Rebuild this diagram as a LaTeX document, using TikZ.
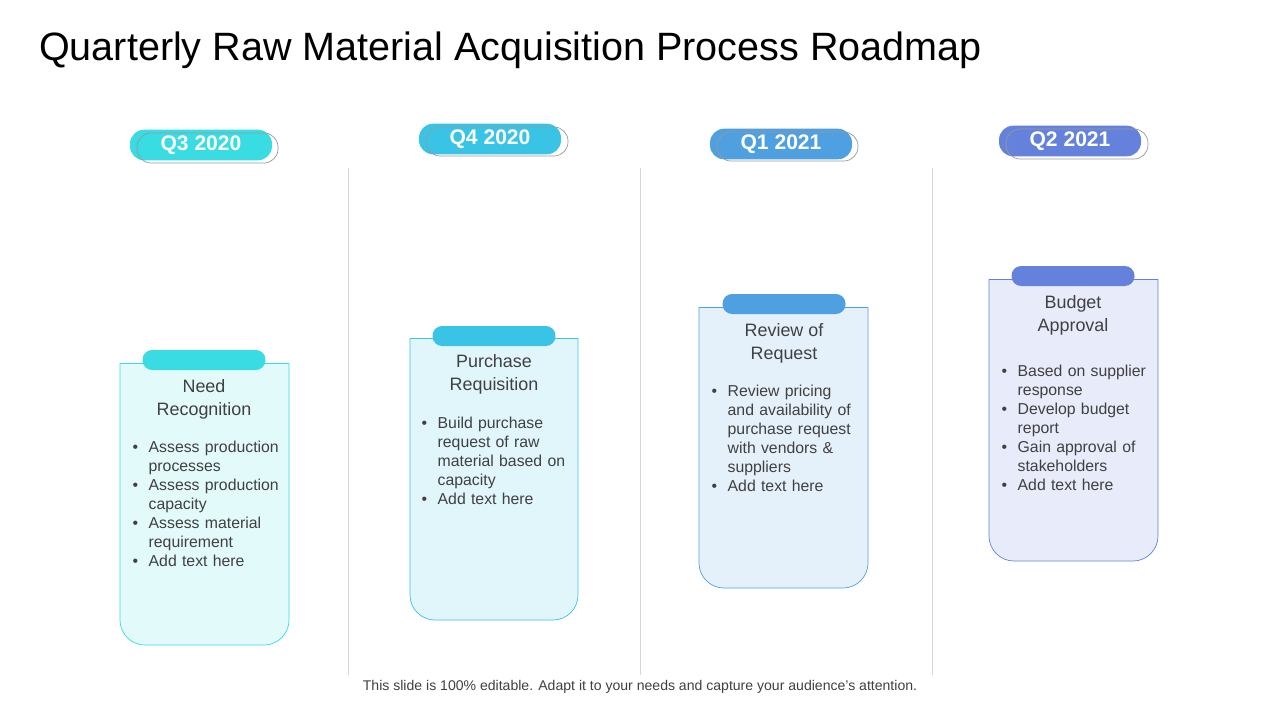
\documentclass[tikz,border=0pt]{standalone}
\usepackage{fontspec}
\setmainfont{Liberation Sans}
\usepackage{enumitem}
\usetikzlibrary{positioning}
\definecolor{qcyan}{RGB}{56,220,226}
\definecolor{qsky}{RGB}{57,196,230}
\definecolor{qblue}{RGB}{79,160,225}
\definecolor{qindigo}{RGB}{100,130,220}
\definecolor{qtext}{RGB}{64,64,64}
\definecolor{qrule}{RGB}{215,215,215}
\newcommand{\cardlist}[1]{\begin{itemize}[leftmargin=11pt,labelsep=6pt,itemsep=0pt,topsep=0pt,parsep=0pt,label=\textbullet]#1\end{itemize}}

\begin{document}
\begin{tikzpicture}[
    x=0.02cm, y=-0.02cm,
    pill/.style={
        rectangle,
        rounded corners=8pt,
        minimum width=2.84cm,
        minimum height=0.6cm,
        text=white,
        font=\bfseries\fontsize{12}{14}\selectfont
    },
    ghost/.style={
        rounded corners=8pt,
        draw=gray!80,
        thin
    },
    tab/.style={
        rectangle,
        rounded corners=5.5pt,
        minimum width=2.46cm,
        minimum height=0.4cm
    },
    card/.style={
        thin,
        rounded corners=0.5cm
    },
    heading/.style={
        text=qtext,
        align=center,
        font=\fontsize{10.2}{13}\selectfont
    },
    bullets/.style={
        text=qtext,
        text width=88pt,
        font=\fontsize{9}{10.8}\selectfont,
        anchor=north west,
        inner sep=0pt
    }
]

% Frame
\useasboundingbox (0,0) rectangle (1280,720);

% Title
\node[anchor=west, font=\fontsize{22.5}{26}\selectfont, text=black] (title) at (33,50) {Quarterly Raw Material Acquisition Process Roadmap};

% Dividers
\foreach \x in {348, 640, 932} {
    \draw[qrule] (\x,168) -- (\x,675);
}

% Quarter pills
\node[pill, fill=qcyan] (q3) at (201,145) {Q3 2020};
\draw[ghost] (137,133) rectangle (278,163);
\node[pill, fill=qsky] (q4) at (490,139) {Q4 2020};
\draw[ghost] (426,127) rectangle (568,156);
\node[pill, fill=qblue] (q1) at (781,144) {Q1 2021};
\draw[ghost] (717,132) rectangle (858,161);
\node[pill, fill=qindigo] (q2) at (1070,141) {Q2 2021};
\draw[ghost] (1006,129) rectangle (1148,159);

% Cards
\draw[card, draw=qcyan, fill=qcyan!14] (120,363) -- (120,645) -- (289,645) -- (289,363);
\draw[qcyan, thin] (120,363) -- (289,363);
\draw[card, draw=qsky, fill=qsky!15] (410,338) -- (410,620) -- (578,620) -- (578,338);
\draw[qsky, thin] (410,338) -- (578,338);
\draw[card, draw=qblue, fill=qblue!15] (699,307) -- (699,588) -- (868,588) -- (868,307);
\draw[qblue, thin] (699,307) -- (868,307);
\draw[card, draw=qindigo, fill=qindigo!15] (989,279) -- (989,561) -- (1158,561) -- (1158,279);
\draw[qindigo, thin] (989,279) -- (1158,279);

% Tabs
\node[tab, fill=qcyan] (tab3) at (204,360) {};
\node[tab, fill=qsky] (tab4) at (494,336) {};
\node[tab, fill=qblue] (tab1) at (784,304) {};
\node[tab, fill=qindigo] (tab2) at (1073,276) {};

% Headings
\node[heading] (need) at (204,399) {Need\\Recognition};
\node[heading] (purchase) at (494,374) {Purchase\\Requisition};
\node[heading] (review) at (784,343) {Review of\\Request};
\node[heading] (budget) at (1073,315) {Budget\\Approval};

% Bullet lists
\node[bullets] (needlist) at (129,433) {\cardlist{
    \item Assess production processes
    \item Assess production capacity
    \item Assess material requirement
    \item Add text here}};
\node[bullets] (purchaselist) at (418,409) {\cardlist{
    \item Build purchase request of raw material based on capacity
    \item Add text here}};
\node[bullets] (reviewlist) at (708,377) {\cardlist{
    \item Review pricing and availability of purchase request with vendors \& suppliers
    \item Add text here}};
\node[bullets] (budgetlist) at (998,357) {\cardlist{
    \item Based on supplier response
    \item Develop budget report
    \item Gain approval of stakeholders
    \item Add text here}};

% Footer
\node[text=qtext, font=\fontsize{8}{10}\selectfont] (footer) at (640,687) {This slide is 100\% editable. Adapt it to your needs and capture your audience's attention.};

\end{tikzpicture}
\end{document}
